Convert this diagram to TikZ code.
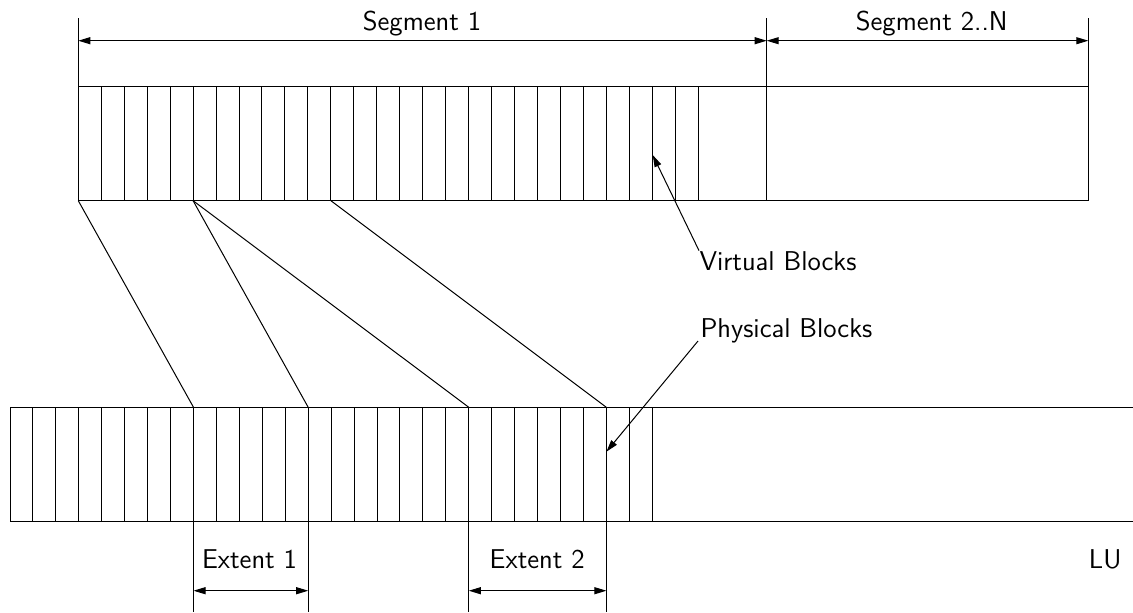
\documentclass[tikz,border=0pt]{standalone}
\usetikzlibrary{arrows.meta}
\begin{document}
\begin{tikzpicture}[x=0.5pt,y=-0.5pt,line width=0.5pt,
  tipend/.style={-{Triangle[length=6pt,width=3.5pt]}},
  dimline/.style={{Triangle[length=6pt,width=3.5pt]}-{Triangle[length=6pt,width=3.5pt]}},
  lbl/.style={font=\sffamily\fontsize{13.6}{16}\selectfont,inner sep=0pt}]
\useasboundingbox (0,0) rectangle (1133,612);
% top strip (virtual)
\draw (78.3,86) rectangle (1088.3,200.7);
\foreach \i in {1,...,27} \draw (78.3+\i*22.96,86) -- ++(0,114.7);
\draw (766.7,18) -- (766.7,200.7);
\draw (78.3,18) -- (78.3,86);
\draw (1088.3,18) -- (1088.3,86);
% bottom strip (physical)
\draw (1133,407.3) -- (10,407.3) -- (10,521.7) -- (1133,521.7);
\foreach \i in {1,...,28} \draw (10+\i*22.94,407.3) -- ++(0,114.4);
% coordinates
\coordinate (s1l) at (78.3,40.7);
\coordinate (s1r) at (766.7,40.7);
\coordinate (s2r) at (1088.3,40.7);
\coordinate (v0) at (78.3,200.7);
\coordinate (v5) at (193.1,200.7);
\coordinate (v11) at (330.9,200.7);
\coordinate (p8) at (193.5,407.3);
\coordinate (p13) at (308.2,407.3);
\coordinate (p20) at (468.8,407.3);
\coordinate (p26) at (606.4,407.3);
\coordinate (e1l) at (193.5,590.7);
\coordinate (e1r) at (308.2,590.7);
\coordinate (e2l) at (468.8,590.7);
\coordinate (e2r) at (606.4,590.7);
\coordinate (vtip) at (652.7,155);
\coordinate (ptip) at (606.4,451.7);
% extension lines
\foreach \x in {193.5,308.2,468.8,606.4} \draw (\x,521.7) -- (\x,612);
% mapping lines
\draw (v0) -- (p8);
\draw (v5) -- (p13);
\draw (v5) -- (p20);
\draw (v11) -- (p26);
% dimension arrows
\draw[dimline] (s1l) -- (s1r);
\draw[dimline] (s1r) -- (s2r);
\draw[dimline] (e1l) -- (e1r);
\draw[dimline] (e2l) -- (e2r);
% labels
\node[lbl,anchor=base] (seg1) at (422,30) {Segment 1};
\node[lbl,anchor=base] (seg2) at (931.7,30) {Segment 2..N};
\node[lbl,anchor=base] (ext1) at (249.5,568.3) {Extent 1};
\node[lbl,anchor=base] (ext2) at (537.2,568.3) {Extent 2};
\node[lbl,anchor=base east] (lu) at (1122,568.3) {LU};
\node[lbl,anchor=base west] (vb) at (699,270) {Virtual Blocks};
\node[lbl,anchor=base west] (pb) at (700,337) {Physical Blocks};
\draw[tipend] (vb.north west) -- (vtip);
\draw[tipend] ([xshift=-1pt,yshift=-2pt]pb.base west) -- (ptip);
\end{tikzpicture}
\end{document}
